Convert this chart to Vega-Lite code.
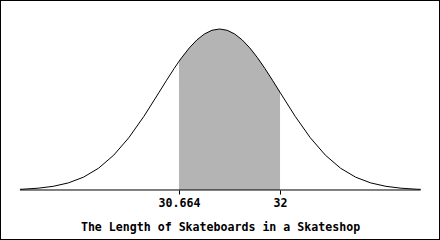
{
  "$schema": "https://vega.github.io/schema/vega-lite/v6.json",
  "width": 440,
  "height": 240,
  "autosize": "none",
  "padding": 0,
  "background": "white",
  "config": {"view": {"stroke": "black", "strokeWidth": 2}},
  "datasets": {
    "curve": [
      {"x": 28.56, "y": 0.00215},
      {"x": 28.6, "y": 0.00254},
      {"x": 28.8, "y": 0.00554},
      {"x": 29.0, "y": 0.01137},
      {"x": 29.2, "y": 0.02191},
      {"x": 29.4, "y": 0.03968},
      {"x": 29.6, "y": 0.06749},
      {"x": 29.8, "y": 0.1079},
      {"x": 30.0, "y": 0.1619},
      {"x": 30.2, "y": 0.2283},
      {"x": 30.4, "y": 0.3025},
      {"x": 30.5, "y": 0.3401},
      {"x": 30.6, "y": 0.3764},
      {"x": 30.664, "y": 0.3985},
      {"x": 30.7, "y": 0.4102},
      {"x": 30.8, "y": 0.4401},
      {"x": 30.9, "y": 0.4648},
      {"x": 31.0, "y": 0.4833},
      {"x": 31.1, "y": 0.4948},
      {"x": 31.2, "y": 0.4987},
      {"x": 31.3, "y": 0.4948},
      {"x": 31.4, "y": 0.4833},
      {"x": 31.5, "y": 0.4648},
      {"x": 31.6, "y": 0.4401},
      {"x": 31.7, "y": 0.4102},
      {"x": 31.8, "y": 0.3764},
      {"x": 31.9, "y": 0.3401},
      {"x": 32.0, "y": 0.3025},
      {"x": 32.2, "y": 0.2283},
      {"x": 32.4, "y": 0.1619},
      {"x": 32.6, "y": 0.1079},
      {"x": 32.8, "y": 0.06749},
      {"x": 33.0, "y": 0.03968},
      {"x": 33.2, "y": 0.02191},
      {"x": 33.4, "y": 0.01137},
      {"x": 33.6, "y": 0.00554},
      {"x": 33.8, "y": 0.00254},
      {"x": 33.86, "y": 0.00198}
    ],
    "base": [{"x": 28.56, "xe": 33.86, "y": 0}]
  },
  "layer": [
    {
      "data": {"name": "curve"},
      "transform": [{"filter": "datum.x >= 30.664 && datum.x <= 32"}],
      "mark": {"type": "area", "color": "#b4b4b4", "interpolate": "linear"},
      "encoding": {
        "x": {
          "field": "x", "type": "quantitative",
          "scale": {"domain": [28.296, 34.116], "nice": false, "zero": false},
          "axis": {
            "values": [30.664, 32],
            "format": ".5~g",
            "offset": -50,
            "domain": false,
            "grid": false,
            "tickSize": 4,
            "tickColor": "black",
            "labelPadding": 3,
            "labelFont": "DejaVu Sans Mono",
            "labelFontWeight": "bold",
            "labelFontSize": 11.6,
            "labelColor": "black",
            "title": "The Length of Skateboards in a Skateshop",
            "titleFont": "DejaVu Sans Mono",
            "titleFontWeight": "bold",
            "titleFontSize": 11.6,
            "titleColor": "black",
            "titleBaseline": "alphabetic",
            "titleY": 40,
            "titleX": 220
          }
        },
        "y": {
          "field": "y", "type": "quantitative",
          "scale": {"domain": [-0.1549, 0.5885], "nice": false, "zero": false},
          "axis": null
        }
      }
    },
    {
      "data": {"name": "curve"},
      "mark": {"type": "line", "color": "black", "strokeWidth": 1},
      "encoding": {
        "x": {"field": "x", "type": "quantitative"},
        "y": {"field": "y", "type": "quantitative"}
      }
    },
    {
      "data": {"name": "base"},
      "mark": {"type": "rule", "color": "black", "strokeWidth": 1},
      "encoding": {
        "x": {"field": "x", "type": "quantitative"},
        "x2": {"field": "xe"},
        "y": {"field": "y", "type": "quantitative"}
      }
    }
  ]
}
